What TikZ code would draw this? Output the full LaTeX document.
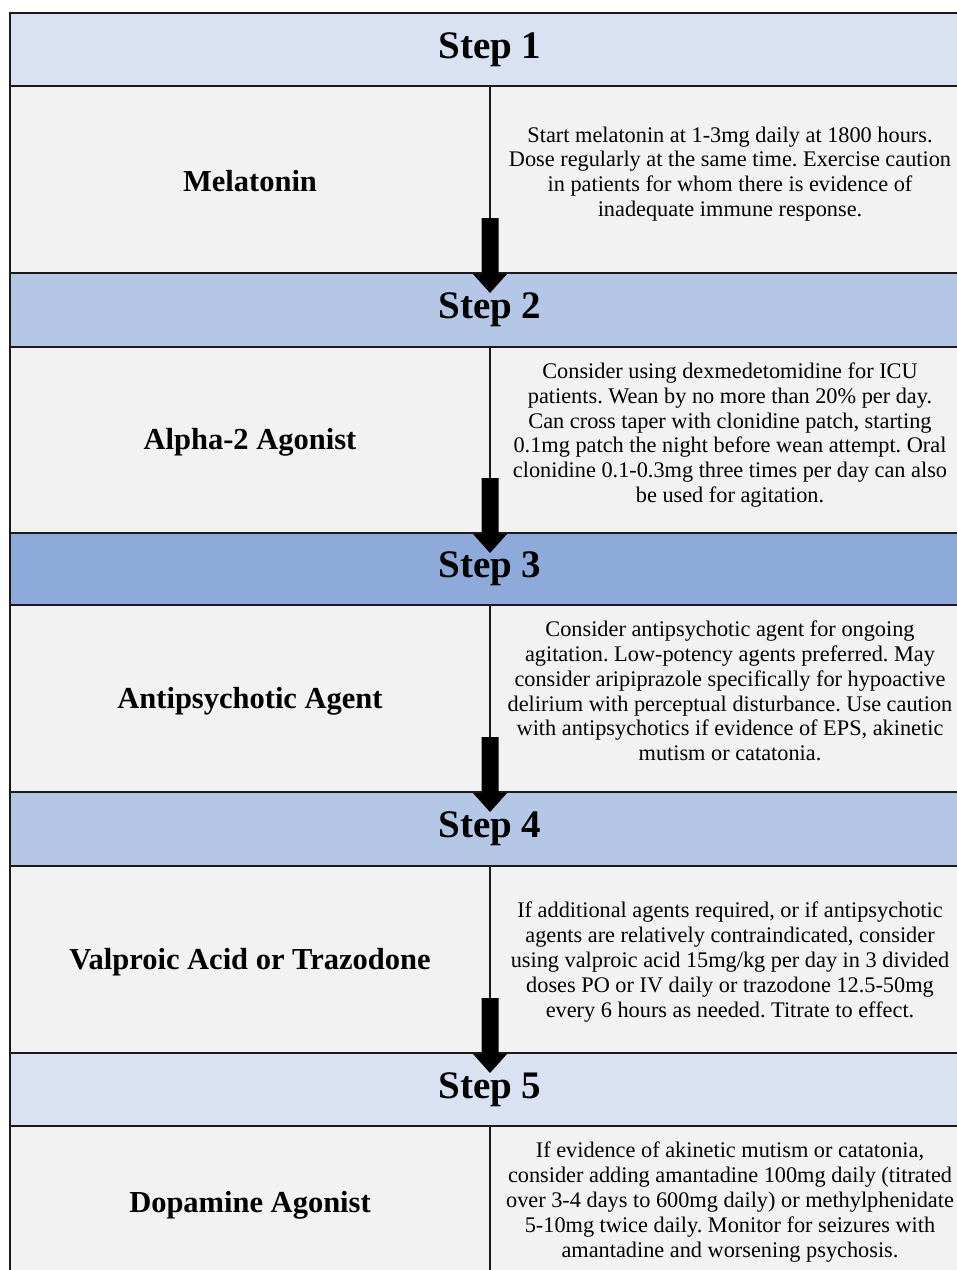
\documentclass[tikz,border=0pt]{standalone}
\usepackage{fontspec}
\setmainfont{Liberation Serif}
\frenchspacing
\definecolor{hA}{HTML}{D9E2F3}
\definecolor{hB}{HTML}{B4C7E7}
\definecolor{hC}{HTML}{8EAADB}
\definecolor{bodyc}{HTML}{F2F2F2}
\definecolor{edge}{HTML}{1A1A1A}
\begin{document}
\begin{tikzpicture}[x=1pt,y=-1pt,
  hdr/.style={draw=edge, line width=2pt, minimum width=960pt, inner sep=0pt, minimum height=#1, font=\fontsize{39}{46}\selectfont\bfseries},
  row/.style={draw=edge, line width=2pt, fill=bodyc, minimum width=960pt, inner sep=0pt, minimum height=#1},
  lab/.style={font=\fontsize{30.5}{36}\selectfont\bfseries, inner sep=0pt},
  txt/.style={font=\fontsize{22.3}{24.8}\selectfont, align=center, inner sep=0pt},
  divider/.style={draw=edge, line width=1.3pt},
  downarr/.pic={\fill[black] (-8.5,0) -- (8.5,0) -- (8.5,56) -- (17,56) -- (0,75) -- (-17,56) -- (-8.5,56) -- cycle;}
]
\clip (0,0) rectangle (957,1270);
\fill[white] (0,0) rectangle (957,1270);

% rows
\node[row=187pt] (b1) at (490,179.5) {};
\node[row=186pt] (b2) at (490,440) {};
\node[row=187pt] (b3) at (490,698.5) {};
\node[row=187pt] (b4) at (490,959.5) {};
\node[row=152pt] (b5) at (490,1202) {};

% dividers
\draw[divider] (b1.north) -- (b1.south);
\draw[divider] (b2.north) -- (b2.south);
\draw[divider] (b3.north) -- (b3.south);
\draw[divider] (b4.north) -- (b4.south);
\draw[divider] (b5.north) -- (b5.south);

% headers
\node[hdr=73pt, fill=hA] (h1) at (490,49.5) {Step 1};
\node[hdr=74pt, fill=hB] (h2) at (490,310) {Step 2};
\node[hdr=72pt, fill=hC] (h3) at (490,569) {Step 3};
\node[hdr=74pt, fill=hB] (h4) at (490,829) {Step 4};
\node[hdr=73pt, fill=hA] (h5) at (490,1089.5) {Step 5};

% left labels
\node[lab] (l1) at (250,181) {Melatonin};
\node[lab] (l2) at (250,442) {Alpha-2 Agonist};
\node[lab] (l3) at (250,701) {Antipsychotic Agent};
\node[lab] (l4) at (250,962) {Valproic Acid or Trazodone};
\node[lab] (l5) at (250,1205) {Dopamine Agonist};

% right texts
\node[txt] (r1) at (730,174) {Start melatonin at 1-3mg daily at 1800 hours.\\Dose regularly at the same time. Exercise caution\\in patients for whom there is evidence of\\inadequate immune response.};
\node[txt] (r2) at (730,435) {Consider using dexmedetomidine for ICU\\patients. Wean by no more than 20\% per day.\\Can cross taper with clonidine patch, starting\\0.1mg patch the night before wean attempt. Oral\\clonidine 0.1-0.3mg three times per day can also\\be used for agitation.};
\node[txt] (r3) at (730,691) {Consider antipsychotic agent for ongoing\\agitation. Low-potency agents preferred. May\\consider aripiprazole specifically for hypoactive\\delirium with perceptual disturbance. Use caution\\with antipsychotics if evidence of EPS, akinetic\\mutism or catatonia.};
\node[txt] (r4) at (730,962) {If additional agents required, or if antipsychotic\\agents are relatively contraindicated, consider\\using valproic acid 15mg/kg per day in 3 divided\\doses PO or IV daily or trazodone 12.5-50mg\\every 6 hours as needed. Titrate to effect.};
\node[txt] (r5) at (730,1202) {If evidence of akinetic mutism or catatonia,\\consider adding amantadine 100mg daily (titrated\\over 3-4 days to 600mg daily) or methylphenidate\\5-10mg twice daily. Monitor for seizures with\\amantadine and worsening psychosis.};

% arrows
\coordinate (a1) at ([yshift=56pt]b1.south);
\coordinate (a2) at ([yshift=56pt]b2.south);
\coordinate (a3) at ([yshift=56pt]b3.south);
\coordinate (a4) at ([yshift=56pt]b4.south);
\pic at (a1) {downarr};
\pic at (a2) {downarr};
\pic at (a3) {downarr};
\pic at (a4) {downarr};
\end{tikzpicture}
\end{document}
